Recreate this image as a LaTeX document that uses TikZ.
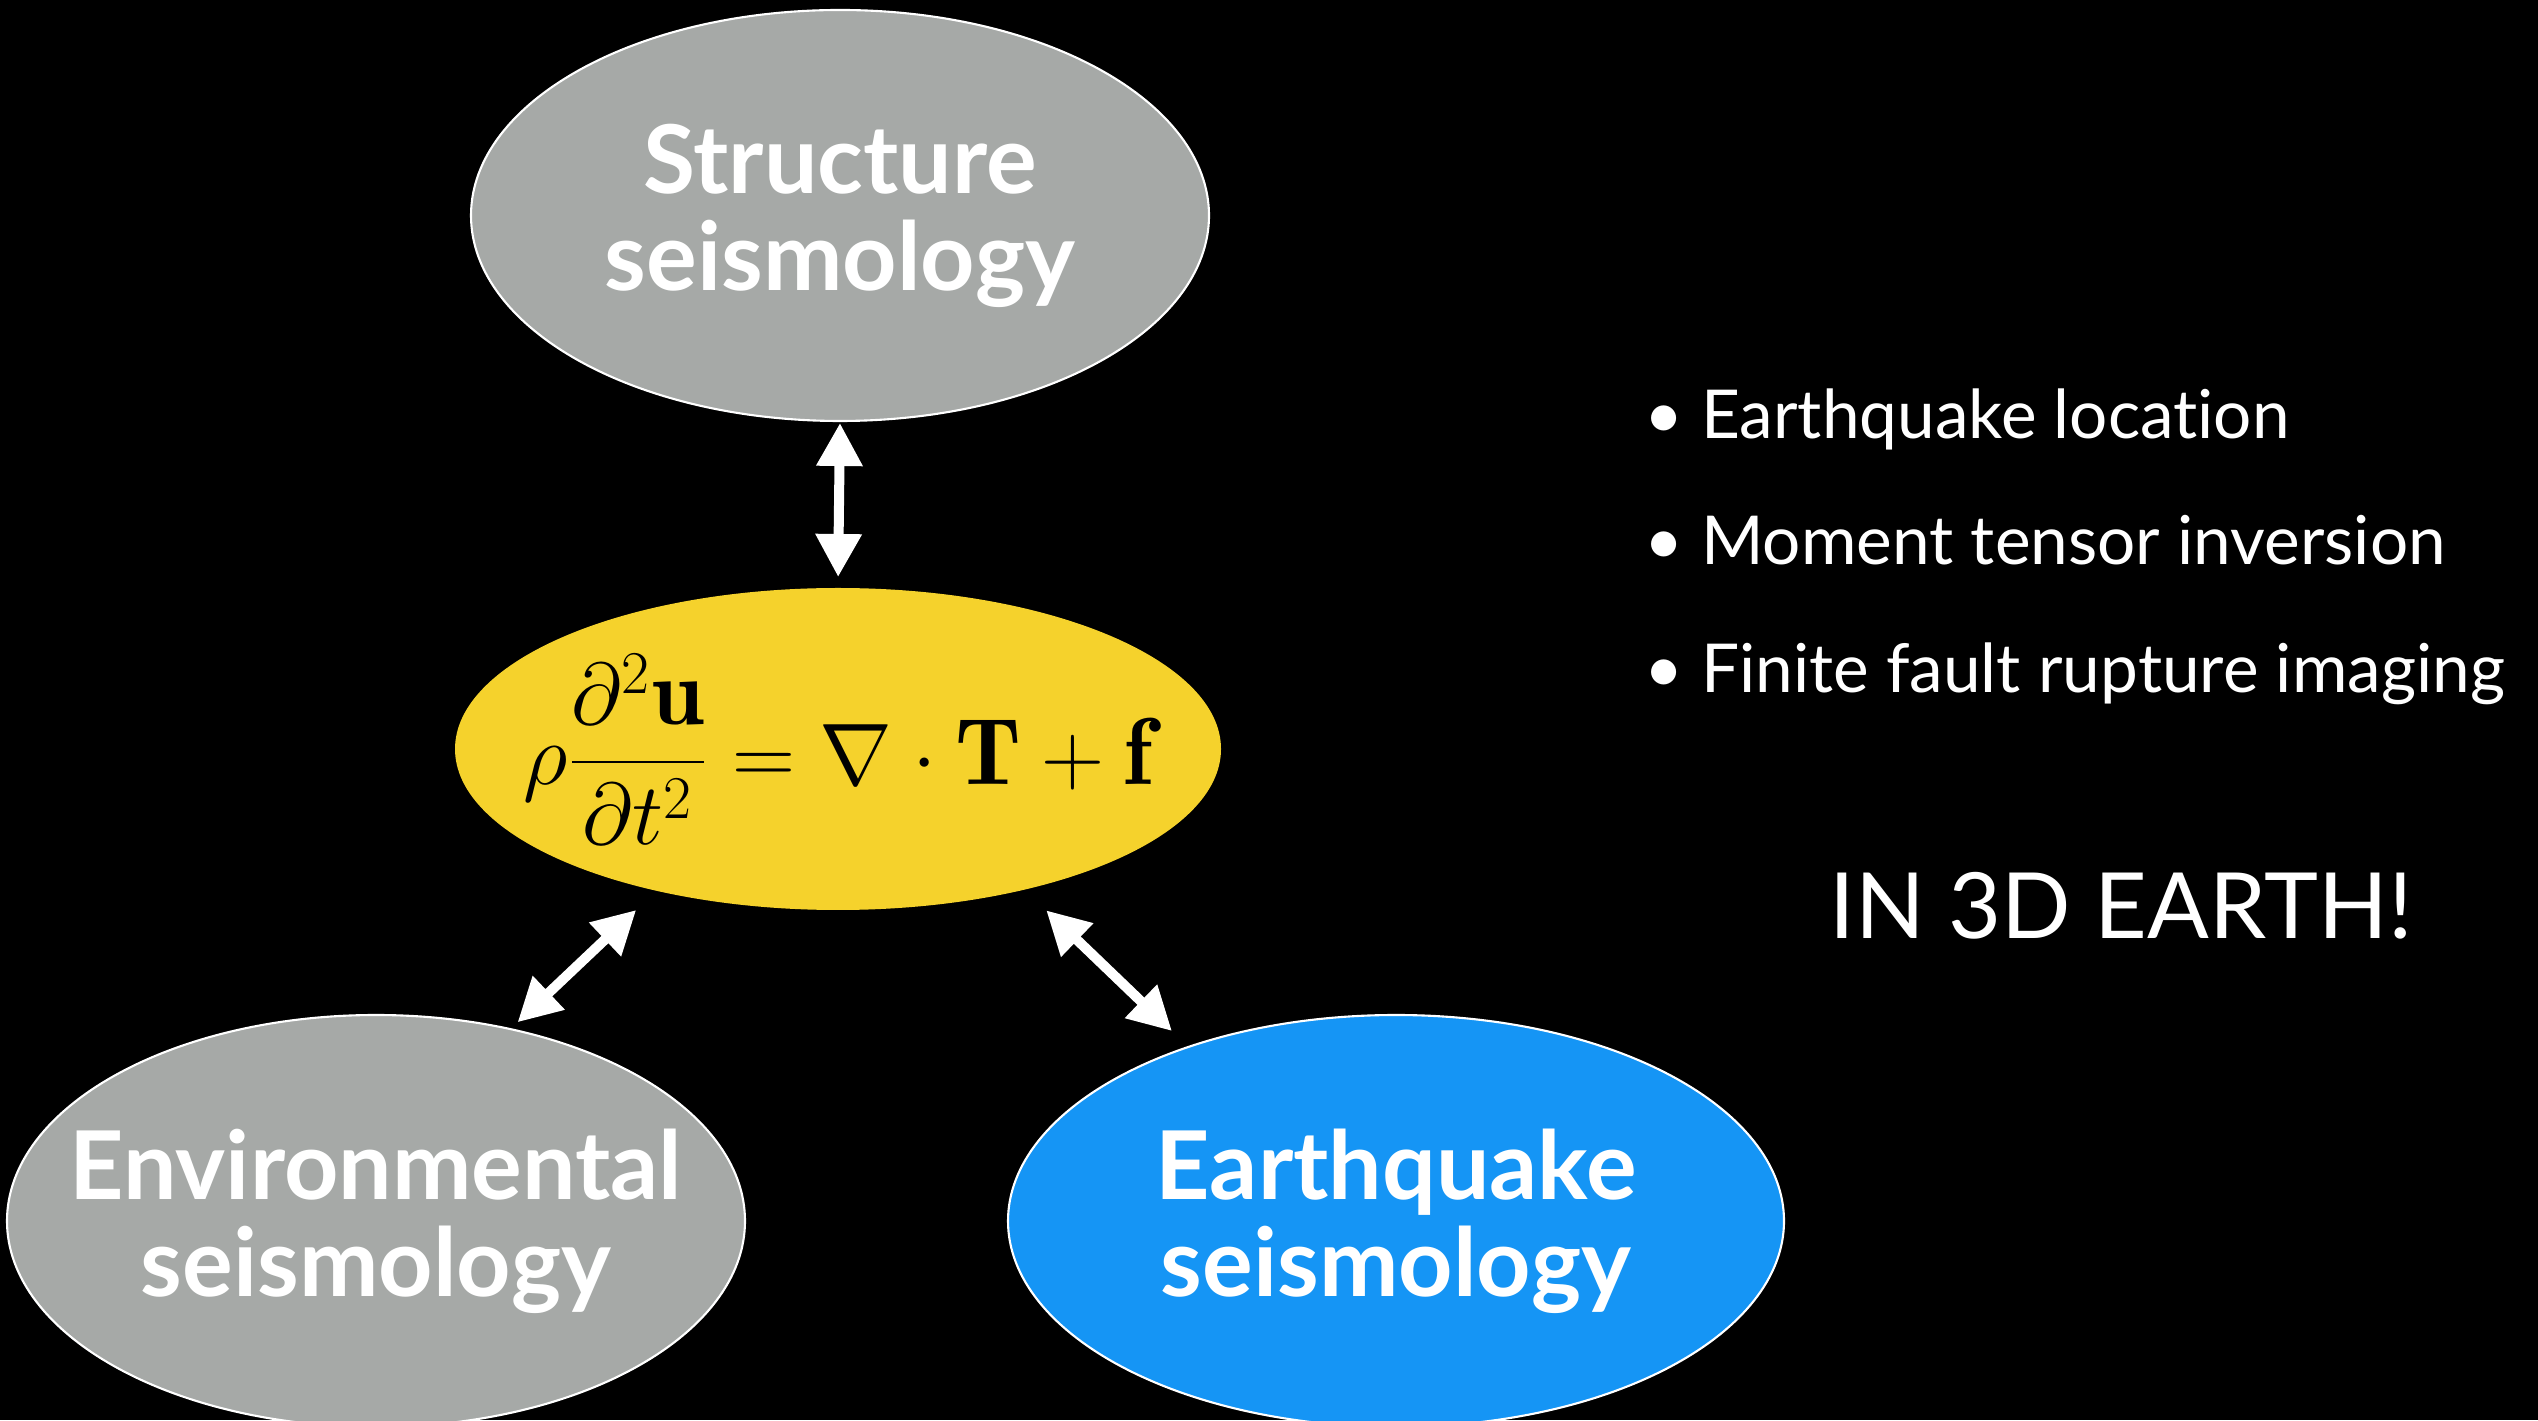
\documentclass[tikz,border=0pt]{standalone}
\usepackage{fontspec}
\usetikzlibrary{shapes.geometric,arrows.meta}
\newfontfamily\slidefont{Lato}[Ligatures=NoCommon]
\definecolor{blobgray}{RGB}{166,169,167}
\definecolor{blobyellow}{RGB}{245,210,44}
\definecolor{blobblue}{RGB}{21,149,245}
\begin{document}
\begin{tikzpicture}[line join=round, >={Triangle[length=4.3mm,width=4.4mm]},
		blob/.style={ellipse, draw=white, line width=0.6pt, inner xsep=-1.5cm, inner ysep=0pt, outer sep=0pt, align=center,
			text=white, font=\slidefont\bfseries\fontsize{27}{27.6}\selectfont},
		link/.style={<->, white, line width=1mm},
		item/.style={anchor=base west, text=white, inner sep=0pt, font=\slidefont\fontsize{19.2}{24}\selectfont}]
	% Hintergrund
	\fill[black] (0,0) rectangle (25.38,14.20);
	\useasboundingbox (0,0) rectangle (25.38,14.20);
	\clip (0,0) rectangle (25.38,14.20);
	% Ellipsen
	\node[blob, fill=blobgray, minimum width=7.38cm, minimum height=4.11cm] (struct) at (8.40,12.045) {Structure\\seismology};
	\node[blob, draw=none, fill=blobyellow, minimum width=7.66cm, minimum height=3.22cm, text=black,
		font=\fontsize{27}{32}\selectfont] (eq) at (8.38,6.71)
		{$\displaystyle \rho\frac{\partial^2\mathbf{u}}{\partial t^2}=\nabla\cdot\mathbf{T}+\mathbf{f}$};
	\node[blob, fill=blobgray, minimum width=7.38cm, minimum height=4.12cm] (env) at (3.76,1.99) {Environmental\\seismology};
	\node[blob, fill=blobblue, minimum width=7.76cm, minimum height=4.12cm] (eqk) at (13.96,1.99) {Earthquake\\seismology};
	% Pfeile
	\draw[link, shorten <=0.02cm, shorten >=0.11cm] (struct.south) -- (eq.north);
	\draw[link, shorten <=0.10cm, shorten >=0.28cm] (env.55) -- (eq.218);
	\draw[link, shorten <=0.30cm, shorten >=0.23cm] (eq.323) -- (eqk.140);
	% Liste
	\node[item] (item1) at (16.44,9.81) {• Earthquake location};
	\node[item] (item2) at (16.44,8.55) {• Moment tensor inversion};
	\node[item] (item3) at (16.44,7.27) {• Finite fault rupture imaging};
	\node[item, font=\slidefont\fontsize{26}{31}\selectfont] (note) at (18.29,4.81) {IN 3D EARTH!};
\end{tikzpicture}
\end{document}
